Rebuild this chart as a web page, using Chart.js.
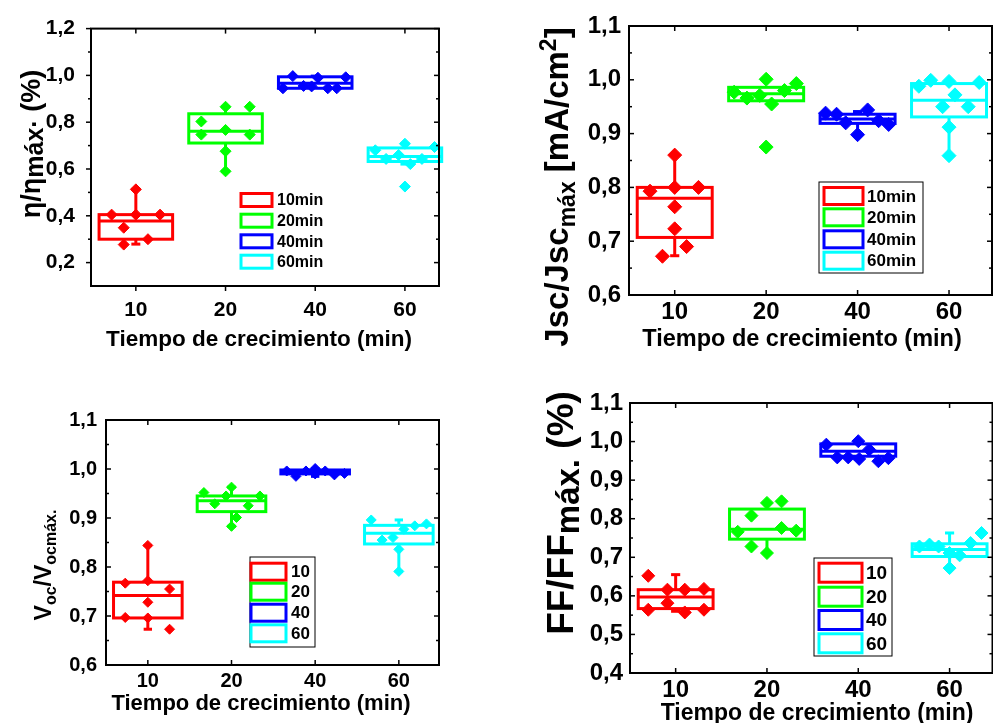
<!DOCTYPE html>
<html>
<head>
<meta charset="utf-8">
<script src="https://cdn.jsdelivr.net/npm/chart.js@4.4.0/dist/chart.umd.min.js"></script>
<style>
html, body { margin: 0; padding: 0; background: #fff; overflow: hidden; width: 993px; height: 723px; }
canvas { position: absolute; }
</style>
</head>
<body>
<canvas id="c1"></canvas>
<canvas id="c2"></canvas>
<canvas id="c3"></canvas>
<canvas id="c4"></canvas>
<script>
// growth times (min)
const categories = ['10', '20', '40', '60'];
const legendMinutes = ['10min', '20min', '40min', '60min'];
const colors = ['#ff0000', '#00ff00', '#0000ff', '#00ffff'];

// eta / eta max
const etaTicks = [0.2, 0.4, 0.6, 0.8, 1.0, 1.2];
const etaValues = [
    [0.405, 0.513, 0.405, 0.405, 0.349, 0.300, 0.277],
    [0.803, 0.747, 0.866, 0.866, 0.767, 0.747, 0.676, 0.590],
    [0.945, 0.997, 0.955, 0.953, 0.990, 0.945, 0.945, 0.992],
    [0.680, 0.643, 0.660, 0.708, 0.621, 0.643, 0.694, 0.525]
];
const etaJitter = [
    [-0.27, 0, 0, 0.27, -0.135, 0.135, -0.135],
    [-0.27, -0.27, 0, 0.27, 0, 0.27, 0, 0],
    [-0.36, -0.25, -0.13, -0.04, 0.03, 0.14, 0.24, 0.34],
    [-0.33, -0.21, -0.07, 0, 0.06, 0.19, 0.33, 0]
];
// [whisker low, q1, median, q3, whisker high]
const etaBoxes = [
    [0.279, 0.300, 0.378, 0.405, 0.513],
    [0.590, 0.711, 0.761, 0.836, 0.866],
    [0.945, 0.945, 0.966, 0.994, 0.997],
    [0.621, 0.632, 0.653, 0.690, 0.708]
];

// Jsc / Jsc max
const jscTicks = [0.6, 0.7, 0.8, 0.9, 1.0, 1.1];
const jscValues = [
    [0.793, 0.860, 0.800, 0.800, 0.764, 0.723, 0.672, 0.690],
    [0.977, 0.966, 0.971, 1.001, 0.955, 0.980, 0.993, 0.875],
    [0.938, 0.936, 0.920, 0.898, 0.944, 0.924, 0.917],
    [0.988, 0.999, 0.997, 0.950, 0.972, 0.950, 0.995, 0.912, 0.859]
];
const jscJitter = [
    [-0.27, 0, 0, 0.26, 0, 0, -0.134, 0.13],
    [-0.35, -0.21, -0.07, 0, 0.06, 0.2, 0.33, 0],
    [-0.35, -0.23, -0.13, 0, 0.11, 0.23, 0.34],
    [-0.33, -0.2, 0, -0.07, 0.065, 0.21, 0.33, 0, 0]
];
const jscBoxes = [
    [0.673, 0.707, 0.780, 0.800, 0.860],
    [0.961, 0.961, 0.974, 0.986, 0.986],
    [0.898, 0.919, 0.927, 0.936, 0.941],
    [0.859, 0.931, 0.962, 0.993, 0.998]
];

// Voc / Voc max
const vocTicks = [0.6, 0.7, 0.8, 0.9, 1.0, 1.1];
const vocValues = [
    [0.767, 0.772, 0.844, 0.755, 0.728, 0.697, 0.696, 0.673],
    [0.952, 0.929, 0.945, 0.963, 0.901, 0.925, 0.945, 0.883],
    [0.996, 0.985, 0.996, 1.001, 0.996, 0.988, 0.991, 0.990],
    [0.896, 0.855, 0.860, 0.877, 0.884, 0.888, 0.836, 0.791]
];
const vocJitter = [
    [-0.27, 0, 0, 0.26, 0, -0.27, 0, 0.26],
    [-0.33, -0.2, -0.065, 0, 0.06, 0.2, 0.34, 0],
    [-0.34, -0.23, -0.11, 0, 0.12, 0.23, 0.35, 0],
    [-0.33, -0.2, -0.07, 0.06, 0.19, 0.33, 0, 0]
];
const vocBoxes = [
    [0.673, 0.696, 0.742, 0.769, 0.844],
    [0.883, 0.913, 0.935, 0.945, 0.963],
    [0.985, 0.990, 0.994, 0.998, 1.001],
    [0.791, 0.847, 0.869, 0.885, 0.896]
];

// FF / FF max
const ffTicks = [0.4, 0.5, 0.6, 0.7, 0.8, 0.9, 1.0, 1.1];
const ffValues = [
    [0.652, 0.564, 0.616, 0.581, 0.616, 0.557, 0.618, 0.564],
    [0.766, 0.728, 0.808, 0.841, 0.711, 0.845, 0.776, 0.769],
    [0.992, 0.959, 0.959, 1.001, 0.955, 0.979, 0.949, 0.957],
    [0.728, 0.733, 0.728, 0.672, 0.711, 0.705, 0.737, 0.763]
];
const ffJitter = [
    [-0.30, -0.30, -0.09, -0.09, 0.10, 0.10, 0.31, 0.31],
    [-0.32, -0.17, -0.17, 0, 0, 0.16, 0.16, 0.32],
    [-0.35, -0.23, -0.11, 0, 0.01, 0.12, 0.22, 0.33],
    [-0.33, -0.22, -0.12, 0, 0, 0.11, 0.23, 0.35]
];
const ffBoxes = [
    [0.560, 0.567, 0.597, 0.616, 0.655],
    [0.711, 0.747, 0.773, 0.825, 0.825],
    [0.955, 0.962, 0.975, 0.994, 0.994],
    [0.672, 0.702, 0.720, 0.735, 0.763]
];

const FONT = "'Liberation Sans', Arial, Helvetica, sans-serif";
const xTitleText = 'Tiempo de crecimiento (min)';
const boxHalf = 0.41;
const panelById = {};

function fmt(v) {
    return v.toFixed(1).replace('.', ',');
}

function drawRuns(ctx, runs, x, y, rot) {
    ctx.save();
    ctx.translate(x, y);
    ctx.rotate(rot);
    let total = 0;
    let widths = runs.map(r => {
        ctx.font = 'bold ' + r.s + 'px ' + FONT;
        let w = ctx.measureText(r.t).width;
        total += w;
        return w;
    });
    let cx = -total / 2;
    ctx.fillStyle = '#000';
    ctx.textAlign = 'left';
    ctx.textBaseline = 'alphabetic';
    runs.forEach((r, k) => {
        ctx.font = 'bold ' + r.s + 'px ' + FONT;
        ctx.fillText(r.t, cx, r.dy || 0);
        cx += widths[k];
    });
    ctx.restore();
}

function line(ctx, x1, y1, x2, y2) {
    ctx.beginPath();
    ctx.moveTo(x1, y1);
    ctx.lineTo(x2, y2);
    ctx.stroke();
}

const panelPlugin = {
    id: 'panel',
    beforeDatasetsDraw(chart) {
        const p = panelById[chart.canvas.id];
        const ctx = chart.ctx, xs = chart.scales.x, ys = chart.scales.y;
        ctx.save();
        ctx.lineWidth = 3;
        p.boxes.forEach((b, i) => {
            let lo = ys.getPixelForValue(b[0]), q1 = ys.getPixelForValue(b[1]);
            let med = ys.getPixelForValue(b[2]), q3 = ys.getPixelForValue(b[3]);
            let hi = ys.getPixelForValue(b[4]);
            let xl = xs.getPixelForValue(i - boxHalf), xr = xs.getPixelForValue(i + boxHalf);
            let xc = xs.getPixelForValue(i);
            let cap = xs.getPixelForValue(i + 0.05) - xc;
            ctx.strokeStyle = colors[i];
            ctx.strokeRect(xl, q3, xr - xl, q1 - q3);
            line(ctx, xl, med, xr, med);
            if (b[4] > b[3]) {
                line(ctx, xc, q3, xc, hi);
                line(ctx, xc - cap, hi, xc + cap, hi);
            }
            if (b[0] < b[1]) {
                line(ctx, xc, q1, xc, lo);
                line(ctx, xc - cap, lo, xc + cap, lo);
            }
        });
        ctx.restore();
    },
    afterDraw(chart) {
        const p = panelById[chart.canvas.id];
        const ctx = chart.ctx, xs = chart.scales.x, ys = chart.scales.y, a = chart.chartArea;
        ctx.save();
        ctx.strokeStyle = '#000';
        // frame
        ctx.lineWidth = 2;
        ctx.strokeRect(a.left, a.top, a.right - a.left, a.bottom - a.top);
        // ticks
        ctx.lineWidth = 1.5;
        let step = p.yTicks[1] - p.yTicks[0];
        let minors = [];
        for (let k = -1; k < p.yTicks.length; k++) {
            let v = p.yTicks[0] + step * (k + 0.5);
            if (v > p.yMin && v < p.yMax) minors.push(v);
        }
        let d = p.tickIn ? 1 : -1;
        p.yTicks.forEach(v => {
            let y = ys.getPixelForValue(v);
            line(ctx, a.left, y, a.left + d * 5, y);
            line(ctx, a.right, y, a.right - 5, y);
        });
        minors.forEach(v => {
            let y = ys.getPixelForValue(v);
            line(ctx, a.left, y, a.left + d * 3, y);
            line(ctx, a.right, y, a.right - 3, y);
        });
        categories.forEach((c, i) => {
            let x = xs.getPixelForValue(i);
            line(ctx, x, a.top, x, a.top + 5);
            line(ctx, x, a.bottom, x, a.bottom - d * 5);
        });
        // axis titles
        const ox = p.left, oy = p.top;
        drawRuns(ctx, p.yTitle.runs, p.yTitle.x - ox, p.yTitle.y - oy, -Math.PI / 2);
        drawRuns(ctx, [{ t: xTitleText, s: p.xTitle.s }], p.xTitle.x - ox, p.xTitle.y - oy, 0);
        // legend
        const L = p.legend;
        if (L.frame) {
            ctx.lineWidth = 1;
            ctx.strokeStyle = '#000';
            ctx.strokeRect(L.frame[0] - ox, L.frame[1] - oy, L.frame[2] - L.frame[0], L.frame[3] - L.frame[1]);
        }
        ctx.lineWidth = 3;
        ctx.font = 'bold ' + L.font + 'px ' + FONT;
        ctx.textBaseline = 'middle';
        ctx.textAlign = 'left';
        L.labels.forEach((lab, i) => {
            let ry = L.rows[i] - oy;
            ctx.strokeStyle = colors[i];
            ctx.strokeRect(L.x - ox, ry - L.h / 2, L.w, L.h);
            ctx.fillStyle = '#000';
            ctx.fillText(lab, L.tx - ox, ry + 1);
        });
        ctx.restore();
    }
};

const panels = [
    {
        id: 'c1', left: 0, top: 0, w: 470, h: 370, pad: { top: 24, right: 31 }, yW: 91, xH: 84,
        xMax: 3.38, yMin: 0.1, yMax: 1.2, yTicks: etaTicks,
        values: etaValues, jitter: etaJitter, boxes: etaBoxes,
        tickFont: 21, yPad: 16, xPad: 12, radius: 5.5, tickIn: false,
        yTitle: { runs: [{ t: 'η/η', s: 27 }, { t: 'máx·', s: 25, dy: 3 }, { t: ' (%)', s: 27 }], x: 40, y: 144 },
        xTitle: { s: 22.5, x: 259, y: 346 },
        legend: { labels: legendMinutes, x: 241, w: 31, h: 13, rows: [200, 220.7, 241.3, 261.7], tx: 277, font: 16, frame: null }
    },
    {
        id: 'c2', left: 500, top: 0, w: 500, h: 370, pad: { top: 26, right: 5 }, yW: 129, xH: 75,
        xMax: 3.47, yMin: 0.6, yMax: 1.1, yTicks: jscTicks,
        values: jscValues, jitter: jscJitter, boxes: jscBoxes,
        tickFont: 24, yPad: 8, xPad: 3, radius: 7, tickIn: true,
        yTitle: { runs: [{ t: 'Jsc/Jsc', s: 33 }, { t: 'máx', s: 23, dy: 7 }, { t: ' [mA/cm', s: 33 }, { t: '2', s: 23, dy: -12 }, { t: ']', s: 33 }], x: 568, y: 187 },
        xTitle: { s: 23.5, x: 802, y: 346 },
        legend: { labels: legendMinutes, x: 824, w: 39, h: 17, rows: [196, 217.3, 239.3, 260.7], tx: 867, font: 17, frame: [819, 182, 923, 273] }
    },
    {
        id: 'c3', left: 0, top: 380, w: 470, h: 343, pad: { top: 40, right: 31 }, yW: 106, xH: 58,
        xMax: 3.48, yMin: 0.6, yMax: 1.1, yTicks: vocTicks,
        values: vocValues, jitter: vocJitter, boxes: vocBoxes,
        tickFont: 20, yPad: 9, xPad: 4, radius: 5, tickIn: true,
        yTitle: { runs: [{ t: 'V', s: 23 }, { t: 'oc', s: 16, dy: 5 }, { t: '/V', s: 23 }, { t: 'ocmáx.', s: 16, dy: 5 }], x: 51, y: 565 },
        xTitle: { s: 22, x: 261, y: 710 },
        legend: { labels: categories, x: 251, w: 35, h: 17, rows: [571.7, 591.7, 612.7, 633.3], tx: 291, font: 17, frame: [250, 557, 315, 647] }
    },
    {
        id: 'c4', left: 500, top: 380, w: 500, h: 343, pad: { top: 23, right: 5 }, yW: 130, xH: 50,
        xMax: 3.47, yMin: 0.4, yMax: 1.1, yTicks: ffTicks,
        values: ffValues, jitter: ffJitter, boxes: ffBoxes,
        tickFont: 24, yPad: 7, xPad: 3, radius: 6.5, tickIn: true,
        yTitle: { runs: [{ t: 'FF/FF', s: 37 }, { t: 'máx.', s: 33, dy: 6 }, { t: ' (%)', s: 37 }], x: 573, y: 513 },
        xTitle: { s: 23, x: 817, y: 720 },
        legend: { labels: categories, x: 819, w: 43, h: 19, rows: [572.7, 596.7, 620, 643.3], tx: 866, font: 19, frame: [814, 558, 892, 656] }
    }
];

function drawPanel(p) {
    let cv = document.getElementById(p.id);
    cv.width = p.w;
    cv.height = p.h;
    cv.style.left = p.left + 'px';
    cv.style.top = p.top + 'px';
    panelById[p.id] = p;

    let datasets = p.values.map((vals, i) => ({
        label: categories[i],
        data: vals.map((v, k) => ({ x: i + p.jitter[i][k], y: v })),
        pointStyle: 'rectRot',
        pointRadius: p.radius,
        backgroundColor: colors[i],
        borderColor: colors[i],
        borderWidth: 1,
        showLine: false
    }));

    let tickFont = { family: FONT, size: p.tickFont, weight: 'bold' };
    new Chart(cv, {
        type: 'scatter',
        data: { datasets: datasets },
        options: {
            responsive: false,
            animation: false,
            devicePixelRatio: 1,
            layout: { padding: { top: p.pad.top, right: p.pad.right, left: 0, bottom: 0 } },
            plugins: { legend: { display: false }, tooltip: { enabled: false } },
            scales: {
                x: {
                    type: 'linear', min: -0.5, max: p.xMax,
                    afterBuildTicks: s => { s.ticks = categories.map((c, i) => ({ value: i })); },
                    afterFit: s => { s.height = p.xH; },
                    ticks: { callback: v => categories[v], font: tickFont, color: '#000', padding: p.xPad, maxRotation: 0, autoSkip: false },
                    grid: { display: false, drawTicks: false },
                    border: { display: false }
                },
                y: {
                    type: 'linear', min: p.yMin, max: p.yMax,
                    afterBuildTicks: s => { s.ticks = p.yTicks.map(v => ({ value: v })); },
                    afterFit: s => { s.width = p.yW; },
                    ticks: { callback: v => fmt(v), font: tickFont, color: '#000', padding: p.yPad },
                    grid: { display: false, drawTicks: false },
                    border: { display: false }
                }
            }
        },
        plugins: [panelPlugin]
    });
}

panels.forEach(drawPanel);
</script>
</body>
</html>
